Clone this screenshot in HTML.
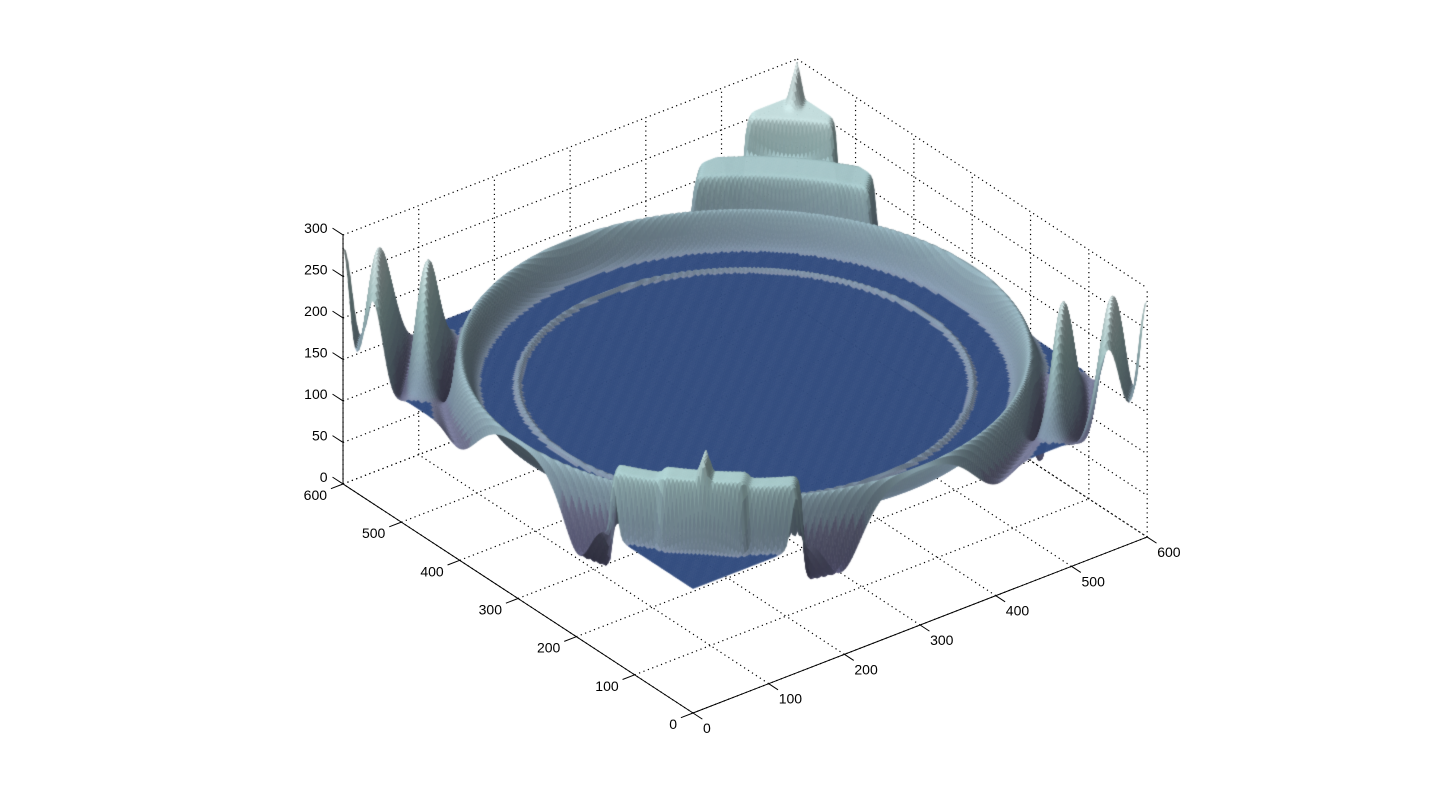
<!DOCTYPE html>
<html><head><meta charset="utf-8">
<style>
html,body{margin:0;padding:0;background:#fff;}
#wrap{position:relative;width:1441px;height:800px;overflow:hidden;background:#fff;}
svg,canvas{position:absolute;left:0;top:0;}
text{font-family:"Liberation Sans",Arial,sans-serif;font-size:14px;fill:#000;}
</style></head>
<body>
<div id="wrap">
<svg id="grid" width="1441" height="800"></svg>
<canvas id="surf" width="1441" height="800"></canvas>
<svg id="axes" width="1441" height="800"></svg>
</div>
<script>
// ---- data ----
const xTicks = [0,100,200,300,400,500,600];
const yTicks = [0,100,200,300,400,500,600];
const zTicks = [0,50,100,150,200,250,300];
const baseLevel = 150;
const ringRadius = [298, 238];
const ringHeight = [40, 5];
const ringWidth = [11, 2.5];
const bowlRadius = [317];
const bowlDepth = [-60];
const bowlWidth = [10];
const sideWaveR = [300, 312, 335, 360, 387, 408, 424];
const sideWaveH = [0, -70, 125, -30, 135, 22, 134];
const sideWaveSpread = [0.24];
// back (far corner) steps
const backRStart = [312, 365];
const backREnd = [365, 440];
const backHalfU = [95, 49];
const backH = [69, 107];
const backSpikeH = [40];
// front (near corner) steps
const frontRStart = [312, 312];
const frontREnd = [345, 348];
const frontHalfU = [100, 45];
const frontH = [75, 82];
const frontSpikeH = [25];

// ---- projection ----
const O = [693, 713], EX = [0.757, -0.2933], EY = [-0.5833, -0.3817], EZ = 0.83;
function P(x, y, z) { return [O[0] + EX[0]*x + EY[0]*y, O[1] + EX[1]*x + EY[1]*y - EZ*z]; }

const NS = 'http://www.w3.org/2000/svg';
function mk(parent, tag, attrs) { const e = document.createElementNS(NS, tag); for (const k in attrs) e.setAttribute(k, attrs[k]); parent.appendChild(e); return e; }

// ---- grid ----
const g = document.getElementById('grid');
function dline(a, b) {
  const l = mk(g, 'line', {x1:a[0], y1:a[1], x2:b[0], y2:b[1], stroke:'#000', 'stroke-width':1.2, 'stroke-dasharray':'1.2,3.5'});
  
  
}
xTicks.forEach(t => { dline(P(t,0,0), P(t,600,0)); dline(P(t,600,0), P(t,600,300)); });
yTicks.forEach(t => { dline(P(0,t,0), P(600,t,0)); dline(P(600,t,0), P(600,t,300)); });
zTicks.forEach(t => { dline(P(0,600,t), P(600,600,t)); dline(P(600,600,t), P(600,0,t)); });

// ---- axes ----
const a = document.getElementById('axes');
function sline(p, q, name) {
  const l = mk(a, 'line', {x1:p[0], y1:p[1], x2:q[0], y2:q[1], stroke:'#000', 'stroke-width':1});
  
  
}
sline(P(0,0,0), P(600,0,0), 'x-axis');
sline(P(0,0,0), P(0,600,0), 'y-axis');
sline(P(0,600,0), P(0,600,300), 'z-axis');
xTicks.forEach(t => {
  const p = P(t,0,0), q = P(t,-16,0);
  sline(p, q, 'x-tick');
  const tx = mk(a, 'text', {x:p[0]+10, y:p[1]+20, 'text-anchor':'start'});
  tx.textContent = t;
  
  
});
yTicks.forEach(t => {
  const p = P(0,t,0), q = P(-16,t,0);
  sline(p, q, 'y-tick');
  const tx = mk(a, 'text', {x:p[0]-16, y:p[1]+16, 'text-anchor':'end'});
  tx.textContent = t;
  
  
});
zTicks.forEach(t => {
  const p = P(0,600,t), q = P(0,618,t);
  sline(p, q, 'z-tick');
  const tx = mk(a, 'text', {x:q[0]-5, y:q[1]+5, 'text-anchor':'end'});
  tx.textContent = t;
  
  
});

// ---- surface function ----
function soft(v, e, w) { const t = (v-e)/w; if (t > 40) return 0; if (t < -40) return 1; return 1/(1+Math.exp(t)); }
function waveAt(r) {
  if (r <= sideWaveR[0]) return 0;
  for (let i = 0; i < sideWaveR.length-1; i++) {
    if (r <= sideWaveR[i+1]) {
      const t = (r - sideWaveR[i])/(sideWaveR[i+1]-sideWaveR[i]);
      const s = (1-Math.cos(Math.PI*t))/2;
      return sideWaveH[i]*(1-s) + sideWaveH[i+1]*s;
    }
  }
  return sideWaveH[sideWaveH.length-1];
}
function f(x, y) {
  const cx = x-300, cy = y-300, r = Math.hypot(cx, cy);
  const u = (cx-cy)/Math.SQRT2, v = (cx+cy)/Math.SQRT2;
  let dz = 0;
  for (let i = 0; i < ringRadius.length; i++) dz += ringHeight[i]*Math.exp(-Math.pow((r-ringRadius[i])/ringWidth[i], 2));
  const frontness = r > 0 ? Math.max(0, -v/r) : 0;
  dz += bowlDepth[0]*Math.pow(frontness, 1.5)*Math.exp(-Math.pow((r-bowlRadius[0])/bowlWidth[0], 2));
  const phi = Math.atan2(Math.abs(v), Math.abs(u));
  const pw = Math.max(0, 1 - Math.pow(phi/sideWaveSpread[0], 2));
  dz += waveAt(r)*pw*pw;
  const au = Math.abs(u);
  let m = 0, tgt = 0;
  if (v > 0) {
    for (let i = 0; i < backH.length; i++) {
      const w = soft(au, backHalfU[i], 1.5)*(1-soft(r, backRStart[i], 1.5))*soft(r, backREnd[i], 1.5);
      if (w > 0.001) { tgt = tgt*(1-w) + backH[i]*w; m = Math.max(m, w); }
    }
    tgt += backSpikeH[0]*Math.max(0, 1-au/9)*(1-soft(r, 400, 4));
  } else {
    for (let i = 0; i < frontH.length; i++) {
      const w = soft(au, frontHalfU[i], 1.5)*(1-soft(r, frontRStart[i], 1.5))*soft(r, frontREnd[i], 1.5);
      if (w > 0.001) { tgt = tgt*(1-w) + frontH[i]*w; m = Math.max(m, w); }
    }
    tgt += frontSpikeH[0]*Math.max(0, 1-au/8)*(1-soft(r, frontRStart[0], 1.5))*soft(r, frontREnd[0], 1.5);
  }
  dz = dz*(1-m) + tgt;
  return baseLevel + dz;
}

// ---- colors ----
const cStopsZ = [0, 100, 148, 153, 190, 230, 300];
const cStopsC = [[60,55,85],[92,92,124],[118,122,150],[128,148,168],[150,178,188],[172,206,206],[232,243,243]];
function cmap(z) {
  if (z <= cStopsZ[0]) return cStopsC[0].slice();
  for (let i = 0; i < cStopsZ.length-1; i++) {
    if (z <= cStopsZ[i+1]) {
      const t = (z-cStopsZ[i])/(cStopsZ[i+1]-cStopsZ[i]);
      return [0,1,2].map(k => cStopsC[i][k]*(1-t)+cStopsC[i+1][k]*t);
    }
  }
  return cStopsC[cStopsC.length-1].slice();
}

// ---- render ----
const cv = document.getElementById('surf'), ctx = cv.getContext('2d');
const STEP = 3, N = 600/STEP;
const Z = [];
for (let i = 0; i <= N; i++) { Z.push([]); for (let j = 0; j <= N; j++) Z[i].push(f(i*STEP, j*STEP)); }
const Lr = [-0.6, 0.1, 1], Ln = Math.hypot(Lr[0], Lr[1], Lr[2]), L = Lr.map(v => v/Ln);
const quads = [];
for (let i = 0; i < N; i++) for (let j = 0; j < N; j++) {
  const x = i*STEP, y = j*STEP;
  quads.push([i, j, 0.2933*(x+STEP/2) + 0.3817*(y+STEP/2)]);
}
quads.sort((p, q) => q[2]-p[2]);
for (const [i, j] of quads) {
  const x = i*STEP, y = j*STEP;
  const z00 = Z[i][j], z10 = Z[i+1][j], z11 = Z[i+1][j+1], z01 = Z[i][j+1];
  const p1 = P(x,y,z00), p2 = P(x+STEP,y,z10), p3 = P(x+STEP,y+STEP,z11), p4 = P(x,y+STEP,z01);
  const zm = (z00+z10+z11+z01)/4;
  const dzx = ((z10-z00)+(z11-z01))/(2*STEP), dzy = ((z01-z00)+(z11-z10))/(2*STEP);
  let col;
  if (Math.abs(zm-baseLevel) < 2 && Math.abs(dzx) < 0.25 && Math.abs(dzy) < 0.25) {
    col = 'rgb(51,77,127)';
  } else {
    const nl = Math.hypot(dzx, dzy, 1);
    const d = (-dzx*L[0] - dzy*L[1] + L[2])/nl;
    let k = 0.55 + 0.45*d/L[2];
    k = Math.max(0.5, Math.min(1.12, k));
    const c = cmap(zm).map(v => Math.max(0, Math.min(255, Math.round(v*k))));
    col = 'rgb(' + c.join(',') + ')';
  }
  ctx.beginPath();
  ctx.moveTo(p1[0], p1[1]); ctx.lineTo(p2[0], p2[1]); ctx.lineTo(p3[0], p3[1]); ctx.lineTo(p4[0], p4[1]);
  ctx.closePath();
  ctx.fillStyle = col; ctx.strokeStyle = col; ctx.lineWidth = 0.7;
  ctx.fill(); ctx.stroke();
}
</script>
</body></html>
